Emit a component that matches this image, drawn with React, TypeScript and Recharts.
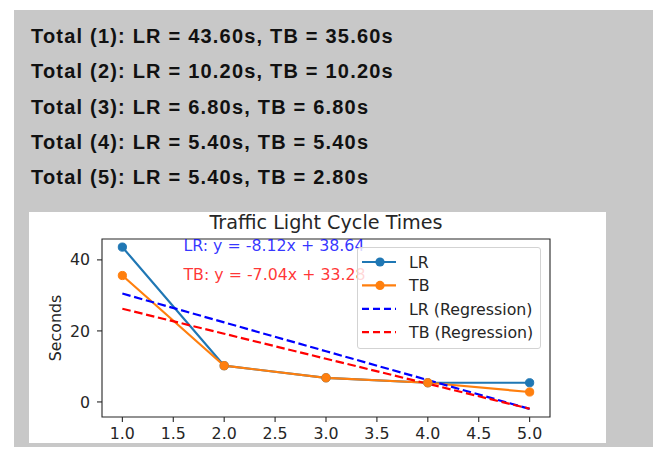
import React from 'react';
import { LineChart, Line, XAxis, YAxis, ReferenceArea, ReferenceDot, Legend } from 'recharts';

const xValues = [1, 2, 3, 4, 5];
const lrTimes = [43.6, 10.2, 6.8, 5.4, 5.4];
const tbTimes = [35.6, 10.2, 6.8, 5.4, 2.8];
const lrRegression = [30.52, 22.4, 14.28, 6.16, -1.96];
const tbRegression = [26.24, 19.2, 12.16, 5.12, -1.92];
const xTicks = [1, 1.5, 2, 2.5, 3, 3.5, 4, 4.5, 5];
const yTicks = [0, 20, 40];
const xDomain: [number, number] = [0.8, 5.2];
const yDomain: [number, number] = [-4.24, 45.88];

const totalLines = [
  'Total (1): LR = 43.60s, TB = 35.60s',
  'Total (2): LR = 10.20s, TB = 10.20s',
  'Total (3): LR = 6.80s, TB = 6.80s',
  'Total (4): LR = 5.40s, TB = 5.40s',
  'Total (5): LR = 5.40s, TB = 2.80s',
];

const annotations = [
  { text: 'LR: y = -8.12x + 38.64', x: 1.6, y: 42.5, color: '#0000ff' },
  { text: 'TB: y = -7.04x + 33.28', x: 1.6, y: 34.3, color: '#ff0000' },
];

const seriesDefs = [
  { key: 'lr', name: 'LR', color: '#1f77b4', dashed: false, marker: true },
  { key: 'tb', name: 'TB', color: '#ff7f0e', dashed: false, marker: true },
  { key: 'lrReg', name: 'LR (Regression)', color: '#0000ff', dashed: true, marker: false },
  { key: 'tbReg', name: 'TB (Regression)', color: '#ff0000', dashed: true, marker: false },
];

const data = xValues.map((x, i) => ({
  x,
  lr: lrTimes[i],
  tb: tbTimes[i],
  lrReg: lrRegression[i],
  tbReg: tbRegression[i],
}));

const FONT = "'DejaVu Sans', sans-serif";
const AX = '#262626';
const DASH = '8.5 3.7';
const FS = 15.8;

const LegendBox = () => (
  <div
    style={{
      width: 184,
      height: 102,
      boxSizing: 'border-box',
      border: '1px solid #d3d3d3',
      borderRadius: 3,
      background: 'rgba(255,255,255,0.8)',
    }}
  >
    <svg width={182} height={100} style={{ display: 'block' }}>
      {seriesDefs.map((s, i) => {
        const cy = 14 + i * 23.4;
        return (
          <g key={s.key}>
            <line
              x1={4}
              x2={38}
              y1={cy}
              y2={cy}
              stroke={s.color}
              strokeWidth={2.2}
              strokeDasharray={s.dashed ? '7 4' : undefined}
            />
            {s.marker && <circle cx={22} cy={cy} r={4.6} fill={s.color} />}
            <text x={51} y={cy + 5.7} fontFamily={FONT} fontSize={FS} fill={AX}>
              {s.name}
            </text>
          </g>
        );
      })}
    </svg>
  </div>
);

export default function App() {
  return (
    <div
      style={{
        position: 'relative',
        width: 661,
        height: 455,
        margin: -8,
        background: '#ffffff',
        overflow: 'hidden',
      }}
    >
      <div
        style={{
          position: 'absolute',
          left: 14,
          top: 10,
          width: 647,
          height: 445,
          background: '#c8c8c8',
        }}
      />
      {totalLines.map((t, i) => (
        <div
          key={i}
          style={{
            position: 'absolute',
            left: 31,
            top: 26 + i * 35.25,
            fontFamily: "'Liberation Sans', Arial, sans-serif",
            fontWeight: 'bold',
            fontSize: 20,
            lineHeight: '20px',
            letterSpacing: '1.2px',
            color: '#111',
            whiteSpace: 'nowrap',
          }}
        >
          {t}
        </div>
      ))}
      <div style={{ position: 'absolute', left: 29, top: 212, width: 577, height: 231, background: '#fff', overflow: 'hidden' }}>
        <div
          style={{
            position: 'absolute',
            left: 73,
            width: 448,
            top: 0,
            textAlign: 'center',
            fontFamily: FONT,
            fontSize: 19.2,
            lineHeight: '22px',
            color: AX,
            whiteSpace: 'nowrap',
          }}
        >
          Traffic Light Cycle Times
        </div>
        <LineChart
          width={577}
          height={231}
          data={data}
          margin={{ top: 27, right: 56, bottom: 0, left: 0 }}
          style={{ position: 'absolute', left: 0, top: 0 }}
        >
          <XAxis
            dataKey="x"
            type="number"
            domain={xDomain}
            ticks={xTicks}
            interval={0}
            allowDataOverflow
            height={26}
            tickFormatter={(v: number) => v.toFixed(1)}
            axisLine={false}
            tickLine={{ stroke: AX, strokeWidth: 1.1 }}
            tickSize={5}
            tickMargin={6}
            tick={{ fontFamily: FONT, fontSize: FS, fill: AX }}
          />
          <YAxis
            type="number"
            domain={yDomain}
            ticks={yTicks}
            interval={0}
            allowDataOverflow
            width={73}
            axisLine={false}
            tickLine={{ stroke: AX, strokeWidth: 1.1 }}
            tickSize={5}
            tickMargin={7}
            tick={{ fontFamily: FONT, fontSize: FS, fill: AX }}
            label={{
              content: (props: any) => {
                const vb = props.viewBox || { x: 0, y: 27, width: 73, height: 178 };
                const cx = vb.x + 26;
                const cy = vb.y + vb.height / 2;
                return (
                  <text
                    x={cx}
                    y={cy}
                    transform={`rotate(-90 ${cx} ${cy})`}
                    textAnchor="middle"
                    dominantBaseline="central"
                    fontFamily={FONT}
                    fontSize={FS}
                    fill={AX}
                  >
                    Seconds
                  </text>
                );
              },
            }}
          />
          <ReferenceArea
            x1={xDomain[0]}
            x2={xDomain[1]}
            y1={yDomain[0]}
            y2={yDomain[1]}
            fill="none"
            fillOpacity={0}
            stroke={AX}
            strokeWidth={1.1}
          />
          {seriesDefs.map((s) => (
            <Line
              key={s.key}
              dataKey={s.key}
              name={s.name}
              type="linear"
              stroke={s.color}
              strokeWidth={2.2}
              strokeDasharray={s.dashed ? DASH : undefined}
              dot={s.marker ? { r: 4.1, fill: s.color, stroke: s.color, strokeWidth: 1 } : false}
              activeDot={false}
              isAnimationActive={false}
            />
          ))}
          {annotations.map((a) => (
            <ReferenceDot
              key={a.text}
              x={a.x}
              y={a.y}
              r={0}
              fill="none"
              stroke="none"
              label={{
                content: (props: any) => {
                  const vb = props.viewBox || { x: 0, y: 0 };
                  return (
                    <text x={vb.x} y={vb.y} fontFamily={FONT} fontSize={FS} fill={a.color} fillOpacity={0.8}>
                      {a.text}
                    </text>
                  );
                },
              }}
            />
          ))}
          <Legend
            layout="vertical"
            align="center"
            verticalAlign="middle"
            content={() => <LegendBox />}
            wrapperStyle={{ left: 328, top: 35, width: 184, height: 102 }}
          />
        </LineChart>
      </div>
    </div>
  );
}
